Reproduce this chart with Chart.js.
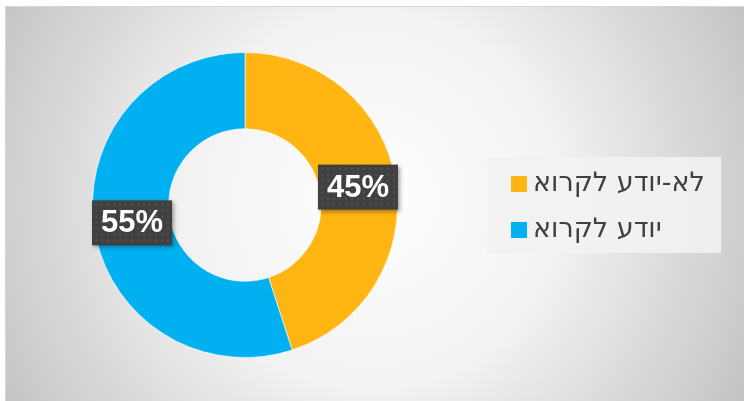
<!DOCTYPE html>
<html>
<head>
<meta charset="utf-8">
<script src="https://cdn.jsdelivr.net/npm/chart.js@4"></script>
<style>
  html, body { margin: 0; padding: 0; background: #fff; }
  #wrap { width: 744px; height: 401px; position: relative; }
</style>
</head>
<body>
<div id="wrap"><canvas id="chart" width="744" height="401"></canvas></div>
<script>
const labels = ['לא-יודע לקרוא', 'יודע לקרוא']
const values = [45, 55]
const colors = ['#FFB612', '#00B0F0']

// background panel with soft radial gradient
const panelBg = {
  id: 'panelBg',
  beforeDraw(chart) {
    const ctx = chart.ctx
    ctx.save()
    ctx.fillStyle = '#ffffff'
    ctx.fillRect(0, 0, chart.width, chart.height)
    const g = ctx.createRadialGradient(372, 200, 0, 372, 200, 420)
    g.addColorStop(0, '#ffffff')
    g.addColorStop(0.45, '#f2f2f2')
    g.addColorStop(1, '#c4c4c4')
    ctx.fillStyle = g
    ctx.fillRect(5, 6, chart.width - 5, chart.height - 6)
    ctx.strokeStyle = '#d6d6d6'
    ctx.lineWidth = 1
    ctx.strokeRect(5.5, 6.5, chart.width - 5, chart.height - 6)
    ctx.restore()
  }
}

// percentage labels in dark boxes
const sliceLabels = {
  id: 'sliceLabels',
  afterDatasetsDraw(chart) {
    const ctx = chart.ctx
    const meta = chart.getDatasetMeta(0)
    const total = values.reduce((a, b) => a + b, 0)
    ctx.save()
    meta.data.forEach((arc, i) => {
      const p = arc.getProps(['x', 'y', 'startAngle', 'endAngle', 'innerRadius', 'outerRadius'], true)
      const mid = (p.startAngle + p.endAngle) / 2
      const r = (p.innerRadius + p.outerRadius) / 2
      const x = p.x + Math.cos(mid) * r
      const y = p.y + Math.sin(mid) * r
      const text = Math.round(values[i] / total * 100) + '%'
      const w = 80, h = 45
      ctx.shadowColor = 'rgba(0,0,0,0.35)'
      ctx.shadowBlur = 4
      ctx.shadowOffsetX = 2
      ctx.shadowOffsetY = 2
      ctx.fillStyle = '#404040'
      ctx.fillRect(x - w / 2, y - h / 2, w, h)
      ctx.shadowColor = 'transparent'
      // dotted texture
      ctx.fillStyle = 'rgba(255,255,255,0.10)'
      for (let dx = 3; dx < w; dx += 6) {
        for (let dy = 3; dy < h; dy += 6) {
          ctx.fillRect(x - w / 2 + dx, y - h / 2 + dy, 2, 2)
        }
      }
      ctx.fillStyle = '#ffffff'
      ctx.font = 'bold 31px "Liberation Sans", Arial, sans-serif'
      ctx.textAlign = 'center'
      ctx.textBaseline = 'middle'
      ctx.fillText(text, x, y + 1)
    })
    ctx.restore()
  }
}

// legend box on the right
const sideLegend = {
  id: 'sideLegend',
  afterDraw(chart) {
    const ctx = chart.ctx
    ctx.save()
    ctx.fillStyle = 'rgba(242,242,242,0.9)'
    ctx.fillRect(487, 157, 234, 96)
    ctx.font = '27px "DejaVu Sans", sans-serif'
    ctx.textBaseline = 'middle'
    labels.forEach((lab, i) => {
      const y = 184 + i * 46
      ctx.fillStyle = colors[i]
      ctx.fillRect(511, y - 8, 16, 16)
      ctx.fillStyle = '#404040'
      ctx.direction = 'ltr'
      ctx.textAlign = 'left'
      const w = ctx.measureText(lab).width
      ctx.direction = 'rtl'
      ctx.textAlign = 'right'
      ctx.fillText(lab, 533 + w, y)
    })
    ctx.restore()
  }
}

new Chart(document.getElementById('chart'), {
  type: 'doughnut',
  data: {
    labels: labels,
    datasets: [{
      data: values,
      backgroundColor: colors,
      borderColor: 'rgba(255,255,255,0.6)',
      borderWidth: 1,
      hoverOffset: 0
    }]
  },
  options: {
    responsive: false,
    animation: false,
    cutout: '50%',
    layout: { padding: { left: 92, right: 346, top: 52, bottom: 43 } },
    plugins: {
      legend: { display: false },
      tooltip: { enabled: false }
    }
  },
  plugins: [panelBg, sliceLabels, sideLegend]
})
</script>
</body>
</html>
